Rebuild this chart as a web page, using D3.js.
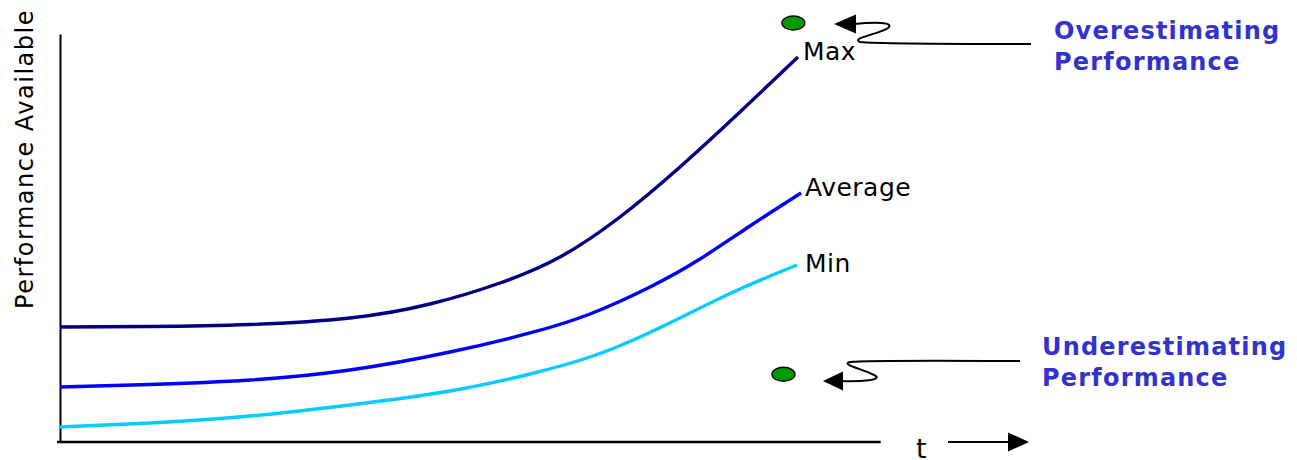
<!DOCTYPE html>
<html>
<head>
<meta charset="utf-8">
<script src="https://cdn.jsdelivr.net/npm/d3@7"></script>
<style>
  html, body { margin: 0; padding: 0; background: #ffffff; }
  svg { display: block; }
</style>
</head>
<body>
<svg id="chart" width="1297" height="460"></svg>
<script>
// ---- data (t: time 0..100, v: performance 0..100) ----
const seriesNames = ["Max", "Average", "Min"];
const maxT = [0, 10.92, 23.06, 35.19, 44.90, 53.40, 60.68, 67.96, 75.24, 82.52, 89.56];
const maxV = [28.19, 28.31, 28.80, 30.39, 33.82, 38.97, 45.34, 55.15, 67.40, 80.88, 94.36];
const avgT = [0, 10.92, 23.06, 35.19, 47.33, 57.04, 64.32, 71.60, 77.67, 83.74, 89.93];
const avgV = [13.48, 14.09, 15.20, 17.65, 22.06, 26.72, 31.37, 37.99, 44.85, 52.94, 61.03];
const minT = [0, 10.92, 23.06, 35.19, 47.33, 57.04, 64.32, 70.39, 76.46, 82.52, 89.44];
const minV = [3.68, 4.66, 6.37, 9.07, 12.50, 16.67, 20.83, 25.74, 31.62, 37.50, 43.38];
const seriesColors = ["#000080", "#0000ff", "#00ccff"];
// Estimate markers (t, v)
const markerT = [89.0, 87.8];
const markerV = [102.7, 16.6];
const annotationLines = [["Overestimating", "Performance"], ["Underestimating", "Performance"]];
const yTitle = "Performance Available";
const xTitle = "t";

const svg = d3.select("#chart");
const x = d3.scaleLinear().domain([0, 100]).range([60, 884]);
const y = d3.scaleLinear().domain([0, 100]).range([442, 34]);

const series = [
  { name: seriesNames[0], t: maxT, v: maxV, color: seriesColors[0], dx: 5, dy: 3 },
  { name: seriesNames[1], t: avgT, v: avgV, color: seriesColors[1], dx: 4, dy: 3 },
  { name: seriesNames[2], t: minT, v: minV, color: seriesColors[2], dx: 8, dy: 7 }
];

const line = d3.line().x(d => x(d[0])).y(d => y(d[1])).curve(d3.curveNatural);

// axes
const yAxis = d3.axisLeft(y).tickValues([]).tickSizeOuter(0);
const xAxis = d3.axisBottom(x).tickValues([]).tickSizeOuter(0);
svg.append("g").attr("transform", "translate(60,0)").call(yAxis)
  .select(".domain").attr("stroke", "#000").attr("stroke-width", 2);
svg.append("g").attr("transform", "translate(0,442)").call(xAxis)
  .select(".domain").attr("stroke", "#000").attr("stroke-width", 2.5)
  .attr("d", `M57,0H${x(99.6)}`);

// series lines
series.forEach(s => {
  const pts = s.t.map((t, i) => [t, s.v[i]]);
  svg.append("path").datum(pts)
    .attr("d", line)
    .attr("fill", "none")
    .attr("stroke", s.color)
    .attr("stroke-width", 3.4);
  const last = pts[pts.length - 1];
  svg.append("text")
    .attr("x", x(last[0]) + s.dx)
    .attr("y", y(last[1]) + s.dy)
    .attr("font-family", "DejaVu Sans, Verdana, sans-serif")
    .attr("font-size", 25)
    .attr("letter-spacing", 0.5)
    .attr("fill", "#000")
    .text(s.name);
});

// axis titles
svg.append("text")
  .attr("transform", "translate(33,159) rotate(-90)")
  .attr("text-anchor", "middle")
  .attr("font-family", "DejaVu Sans, Verdana, sans-serif")
  .attr("font-size", 24)
  .attr("letter-spacing", 1.5)
  .text(yTitle);

svg.append("text")
  .attr("x", 916).attr("y", 458)
  .attr("font-family", "DejaVu Sans, Verdana, sans-serif")
  .attr("font-size", 27)
  .text(xTitle);

// t arrow
svg.append("line").attr("x1", 948).attr("y1", 442).attr("x2", 1010).attr("y2", 442)
  .attr("stroke", "#000").attr("stroke-width", 2);
svg.append("path").attr("d", "M1008,432.5L1029,442L1008,451.5Z").attr("fill", "#000");

// markers
markerT.forEach((t, i) => {
  svg.append("ellipse")
    .attr("cx", x(t)).attr("cy", y(markerV[i]))
    .attr("rx", 11.5).attr("ry", 7)
    .attr("fill", "#009900").attr("stroke", "#000").attr("stroke-width", 1.3);
});

// annotation arrows
svg.append("path").attr("d", "M854,24 C875,22 895,22 888,28 C880,34 850,38 860,42 C880,44 990,44 1031,44")
  .attr("fill", "none").attr("stroke", "#000").attr("stroke-width", 2);
svg.append("path").attr("d", "M834,24L856,14.5L856,33.5Z").attr("fill", "#000");

svg.append("path").attr("d", "M841,381 C860,382 885,380 874,375 C862,369 840,364 850,362 C870,360 980,361 1020,361")
  .attr("fill", "none").attr("stroke", "#000").attr("stroke-width", 2);
svg.append("path").attr("d", "M823,381L843,371.5L843,390.5Z").attr("fill", "#000");

// annotation texts
const annoPos = [[1054, 39], [1042, 355]];
annotationLines.forEach((lines, i) => {
  const tx = svg.append("text")
    .attr("x", annoPos[i][0]).attr("y", annoPos[i][1])
    .attr("font-family", "DejaVu Sans, Verdana, sans-serif")
    .attr("font-weight", "bold")
    .attr("font-size", 24)
    .attr("letter-spacing", 1.2)
    .attr("fill", "#3333cc");
  lines.forEach((l, j) => {
    tx.append("tspan").attr("x", annoPos[i][0]).attr("dy", j === 0 ? 0 : 31).text(l);
  });
});
</script>
</body>
</html>
